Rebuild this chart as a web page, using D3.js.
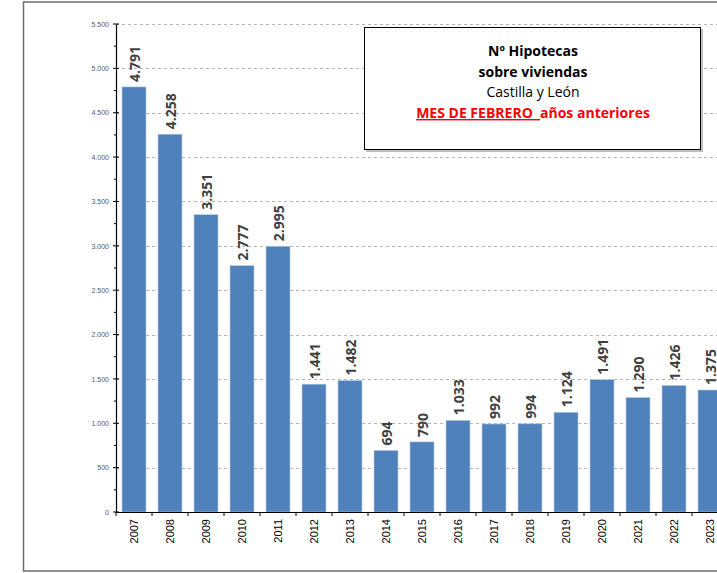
<!DOCTYPE html>
<html>
<head>
<meta charset="utf-8">
<script src="https://cdn.jsdelivr.net/npm/d3@7"></script>
<style>
  body { margin: 0; background: #fff; }
  svg { display: block; font-family: "Open Sans", "Liberation Sans", sans-serif; }
</style>
</head>
<body>
<div id="chart"></div>
<script>
const years = ['2007','2008','2009','2010','2011','2012','2013','2014','2015','2016','2017','2018','2019','2020','2021','2022','2023'];
const hipotecas = [4791, 4258, 3351, 2777, 2995, 1441, 1482, 694, 790, 1033, 992, 994, 1124, 1491, 1290, 1426, 1375];
const yTicks = [0, 500, 1000, 1500, 2000, 2500, 3000, 3500, 4000, 4500, 5000, 5500];
const titleLines = ['Nº Hipotecas', 'sobre viviendas', 'Castilla y León'];

const width = 717, height = 573;
const margin = {left: 116, top: 24, bottom: 61};
const plotBottom = height - margin.bottom; // 512

const svg = d3.select('#chart').append('svg')
  .attr('width', width)
  .attr('height', height);

// outer frame (right edge is cut off in the original)
svg.append('rect')
  .attr('x', 23.5).attr('y', 2)
  .attr('width', 760).attr('height', 569)
  .attr('fill', 'none')
  .attr('stroke', '#6b6b6b')
  .attr('stroke-width', 1.5);

const x = d3.scaleBand()
  .domain(years)
  .range([margin.left, margin.left + years.length * 36])
  .paddingInner(1 / 3)
  .paddingOuter(1 / 6);

const y = d3.scaleLinear()
  .domain([0, 5500])
  .range([plotBottom, margin.top]);

// gridlines
svg.append('g')
  .selectAll('line')
  .data(yTicks.slice(1))
  .enter().append('line')
    .attr('x1', margin.left).attr('x2', width)
    .attr('y1', d => Math.round(y(d)) + 0.5)
    .attr('y2', d => Math.round(y(d)) + 0.5)
    .attr('stroke', '#b4b4b4')
    .attr('stroke-dasharray', '3,3');

// bars
svg.append('g')
  .selectAll('rect')
  .data(hipotecas)
  .enter().append('rect')
    .attr('x', (d, i) => x(years[i]))
    .attr('y', d => y(d))
    .attr('width', x.bandwidth())
    .attr('height', d => plotBottom - y(d))
    .attr('fill', '#4f81bd')
    .attr('stroke', '#b9cde5')
    .attr('stroke-width', 0.6);

// bar value labels
const fmt = d => d3.format(',')(d).replace(/,/g, '.');
svg.append('g')
  .selectAll('text')
  .data(hipotecas)
  .enter().append('text')
    .attr('transform', (d, i) => 'translate(' + (x(years[i]) + x.bandwidth() / 2 + 5.5) + ',' + (y(d) - 5) + ') rotate(-90)')
    .attr('font-size', 14)
    .attr('font-weight', 'bold')
    .attr('fill', '#404040')
    .text(fmt);

// y axis
const yAxis = d3.axisLeft(y)
  .tickValues(yTicks)
  .tickSize(0)
  .tickPadding(7)
  .tickFormat(fmt);

const gy = svg.append('g')
  .attr('transform', 'translate(' + margin.left + ',0)')
  .call(yAxis);
gy.select('.domain').attr('stroke', '#000').attr('stroke-width', 1.2);
gy.selectAll('text')
  .attr('font-size', 7)
  .attr('fill', '#595959')
  .attr('font-family', '"Liberation Sans", sans-serif');

// major and minor tick marks crossing the axis
gy.append('g')
  .selectAll('line')
  .data(d3.range(0, 5501, 250))
  .enter().append('line')
    .attr('x1', d => d % 500 === 0 ? -3 : -2)
    .attr('x2', d => d % 500 === 0 ? 3 : 0)
    .attr('y1', d => y(d)).attr('y2', d => y(d))
    .attr('stroke', '#000');

// x axis
const gx = svg.append('g')
  .attr('transform', 'translate(0,' + plotBottom + ')')
  .call(d3.axisBottom(x).tickSize(0).tickSizeOuter(0));
gx.select('.domain').attr('stroke', '#000').attr('stroke-width', 1.2);
gx.selectAll('text')
  .attr('transform', 'rotate(-90)')
  .attr('x', -7)
  .attr('y', 0)
  .attr('dy', '0.35em')
  .attr('text-anchor', 'end')
  .attr('font-size', 11)
  .attr('fill', '#000')
  .attr('font-family', '"Liberation Sans", sans-serif');

// category separator ticks
gx.append('g')
  .selectAll('line')
  .data(years)
  .enter().append('line')
    .attr('x1', d => x(d) - x.step() * x.paddingInner() / 2)
    .attr('x2', d => x(d) - x.step() * x.paddingInner() / 2)
    .attr('y1', 0).attr('y2', 4)
    .attr('stroke', '#000');

// title box
const box = svg.append('g');
box.append('rect')
  .attr('x', 366).attr('y', 29)
  .attr('width', 337).attr('height', 123)
  .attr('fill', '#bfbfbf');
box.append('rect')
  .attr('x', 364.5).attr('y', 27.5)
  .attr('width', 336).attr('height', 122)
  .attr('fill', '#fff')
  .attr('stroke', '#000')
  .attr('stroke-width', 1);

const cx = 533;
box.selectAll('text.t')
  .data(titleLines)
  .enter().append('text')
    .attr('class', 't')
    .attr('x', cx)
    .attr('y', (d, i) => 56 + i * 20.5)
    .attr('text-anchor', 'middle')
    .attr('font-size', 14)
    .attr('font-weight', (d, i) => i < 2 ? 'bold' : 'normal')
    .attr('fill', '#000')
    .text(d => d);

const red = box.append('text')
  .attr('x', cx)
  .attr('y', 118)
  .attr('text-anchor', 'middle')
  .attr('font-size', 14)
  .attr('font-weight', 'bold')
  .attr('fill', '#ff0000');
red.append('tspan')
  .attr('text-decoration', 'underline')
  .text('MES DE FEBRERO\u00a0\u00a0');
red.append('tspan').text('años anteriores');
</script>
</body>
</html>
